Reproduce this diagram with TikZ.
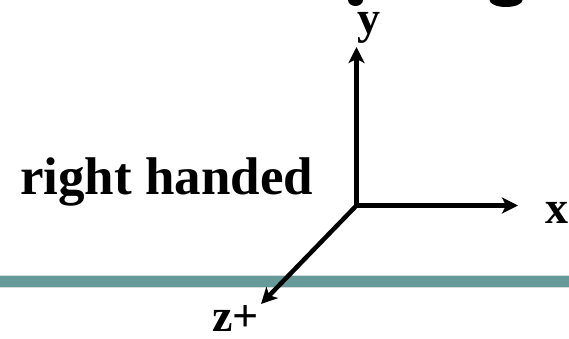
\documentclass[tikz,border=0pt]{standalone}
\usepackage{fontspec}
\setmainfont{Liberation Serif}
\usetikzlibrary{arrows.meta}
\definecolor{ink}{HTML}{000000}
\definecolor{band}{HTML}{669A99}
\definecolor{bandedge}{HTML}{D3DCDC}
\tikzset{
  >={Stealth[length=16pt,width=16pt,inset=4pt]},
  axis/.style={draw=ink, line width=4.5pt, line cap=rect, ->},
  axislabel/.style={font=\fontsize{46}{46}\selectfont\bfseries, text=ink,
    inner sep=0pt, text height=0.48em, text depth=0.2em},
  heading/.style={font=\fontsize{53}{53}\selectfont\bfseries, text=ink, inner sep=0pt},
}
\begin{document}
\begin{tikzpicture}[x=1pt,y=-1pt]
  \useasboundingbox (0,0) rectangle (569,339);
  \fill[white] (0,0) rectangle (569,339);

  % cut-off title glyphs at the top edge
  \begin{scope}
    \clip (0,0) rectangle (569,20);
    \fill[ink] (355.5,0) ellipse (7.5 and 6);
    \fill[ink] (506,0) ellipse (16.5 and 7);
  \end{scope}

  % divider band
  \fill[band] (0,275.5) rectangle (569,286.5);
  \draw[bandedge, line width=0.7pt] (0,275) -- (569,275);
  \draw[bandedge, line width=0.7pt] (0,287) -- (569,287);

  \node[heading, anchor=base west] (rh) at (20,194) {right handed};

  % axes
  \coordinate (o) at (356.5,205.5);
  \coordinate (ytip) at (356.5,47);
  \coordinate (xtip) at (518,205.5);
  \coordinate (ztip) at (261,304);
  \draw[axis] (o) -- (ytip);
  \draw[axis] (o) -- (xtip);
  \draw[axis, line cap=butt] (o) -- (ztip);

  \node[axislabel, anchor=base] (ylab) at (369,34) {y};
  \node[axislabel, anchor=base west] (xlab) at (545,223) {x};
  \node[axislabel, anchor=base west, text depth=0pt] (zlab) at (212,331) {z+};
\end{tikzpicture}
\end{document}
